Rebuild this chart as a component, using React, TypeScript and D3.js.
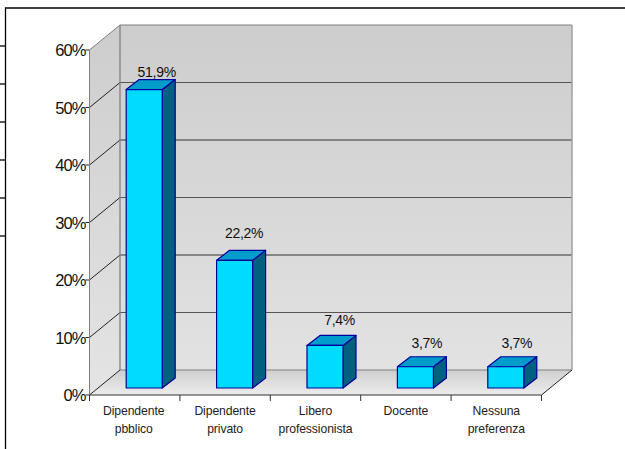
import React from "react";
import * as d3 from "d3";

const categories = [["Dipendente", "pbblico"], ["Dipendente", "privato"], ["Libero", "professionista"], ["Docente"], ["Nessuna", "preferenza"]];
const values = [51.9, 22.2, 7.4, 3.7, 3.7];
const valueLabels = ["51,9%", "22,2%", "7,4%", "3,7%", "3,7%"];
const yTicks = [0, 10, 20, 30, 40, 50, 60];
const frameTicks = [46, 84, 122, 160, 198, 236];
const labelNudgeX = [12.5, 9.5, 14.5, 11.5, 11];
const labelLift = [13, 22, 20, 19, 19];

const W = 625, H = 449;
const DX = 30.5, DY = -25;
const BDX = 13, BDY = -10;
const x = d3.scaleBand<number>().domain(d3.range(5)).range([89.5, 541.5]).paddingInner(0).paddingOuter(0);
const y = d3.scaleLinear().domain([0, 60]).range([395, 50]);
const FONT = "'Liberation Sans', Arial, sans-serif";
const EDGE = "#00009c";

export default function App() {
  const x0 = x.range()[0], x1 = x.range()[1];
  const y0 = y(0), yTop = y(60);
  const poly = (p: number[][]) => p.map((d) => d.join(",")).join(" ");
  return (
    <svg width={W} height={H} style={{ position: "absolute", left: 0, top: 0, background: "#fff" }} fontFamily={FONT}>
      <defs>
        <linearGradient id="wall" x1="0" y1="0" x2="0" y2="1">
          <stop offset="0" stopColor="#cdcdcd" />
          <stop offset="1" stopColor="#e2e2e2" />
        </linearGradient>
        <linearGradient id="side" x1="0" y1="0" x2="0" y2="1">
          <stop offset="0" stopColor="#cdcdcd" />
          <stop offset="1" stopColor="#e4e4e4" />
        </linearGradient>
        <linearGradient id="floor" x1="0" y1="0" x2="0" y2="1">
          <stop offset="0" stopColor="#cfcfcf" />
          <stop offset="1" stopColor="#ececec" />
        </linearGradient>
      </defs>

      {/* page frame */}
      <path d={`M5.5 449V8H625`} fill="none" stroke="#000" strokeWidth={1.3} />
      {frameTicks.map((t) => (
        <line key={t} x1={0} x2={5} y1={t} y2={t} stroke="#000" strokeWidth={1.3} />
      ))}

      {/* walls */}
      <polygon points={poly([[x0 + DX, yTop + DY], [x1 + DX, yTop + DY], [x1 + DX, y0 + DY], [x0 + DX, y0 + DY]])} fill="url(#wall)" />
      <polygon points={poly([[x0, yTop], [x0 + DX, yTop + DY], [x0 + DX, y0 + DY], [x0, y0]])} fill="url(#side)" />
      <polygon points={poly([[x0, y0], [x0 + DX, y0 + DY], [x1 + DX, y0 + DY], [x1, y0]])} fill="url(#floor)" />

      {/* gridlines */}
      {yTicks.map((t) => {
        const yy = y(t);
        const edge = t === 0 || t === 60;
        return (
          <g key={t} fill="none">
            <line x1={x0 + DX} x2={x1 + DX} y1={yy + DY} y2={yy + DY} stroke={edge ? "#808080" : t % 20 === 0 ? "#333" : "#555"} strokeWidth={1.2} />
            <line x1={x0} x2={x0 + DX} y1={yy} y2={yy + DY} stroke={t === 60 ? "#808080" : "#222"} strokeWidth={1} />
            <line x1={x0 - 4} x2={x0} y1={yy} y2={yy} stroke="#222" />
            <text x={x0 - 4} y={yy + 6} textAnchor="end" fontSize={16.5} fill="#111" letterSpacing={-0.9} stroke="none">{t}%</text>
          </g>
        );
      })}
      <line x1={x0 + DX} x2={x0 + DX} y1={yTop + DY} y2={y0 + DY} stroke="#808080" strokeWidth={1.3} />
      <line x1={x1 + DX} x2={x1 + DX} y1={yTop + DY} y2={y0 + DY} stroke="#a0a0a0" strokeWidth={1.5} />
      <line x1={x0} x2={x0} y1={yTop} y2={y0} stroke="#808080" />
      <line x1={x1} x2={x1 + DX} y1={y0} y2={y0 + DY} stroke="#222" />
      <line x1={x0} x2={x1} y1={y0} y2={y0} stroke="#333" strokeWidth={1.2} />

      {/* category ticks and labels */}
      {d3.range(6).map((i) => {
        const tx = x0 + (i * (x1 - x0)) / 5;
        return <line key={i} x1={tx} x2={tx} y1={y0} y2={y0 + 6} stroke="#333" />;
      })}
      {categories.map((c, i) => (
        <text key={i} textAnchor="middle" fontSize={12.2} fill="#222" letterSpacing={-0.1}>
          {c.map((l, j) => (
            <tspan key={j} x={x(i)! + x.bandwidth() / 2 - (i === 0 ? 1 : 0)} y={415 + j * 17.5}>{l}</tspan>
          ))}
        </text>
      ))}

      {/* bars */}
      {values.map((v, i) => {
        const w = 36;
        const bx = x(i)! + (x.bandwidth() - w) / 2 + 9.5;
        const base = y0 - 7;
        const top = base - (y0 - y(v));
        return (
          <g key={i} stroke={EDGE} strokeWidth={1.2} strokeLinejoin="round">
            <polygon points={poly([[bx + w, top], [bx + w + BDX, top + BDY], [bx + w + BDX, base + BDY], [bx + w, base]])} fill="#006080" />
            <polygon points={poly([[bx, top], [bx + BDX, top + BDY], [bx + w + BDX, top + BDY], [bx + w, top]])} fill="#009ccc" />
            <rect x={bx} y={top} width={w} height={base - top} fill="#00dcff" />
            <text x={bx + w / 2 + labelNudgeX[i]} y={top - labelLift[i]} textAnchor="middle" fontSize={14} fill="#111" stroke="none" letterSpacing={-0.3}>{valueLabels[i]}</text>
          </g>
        );
      })}
    </svg>
  );
}
